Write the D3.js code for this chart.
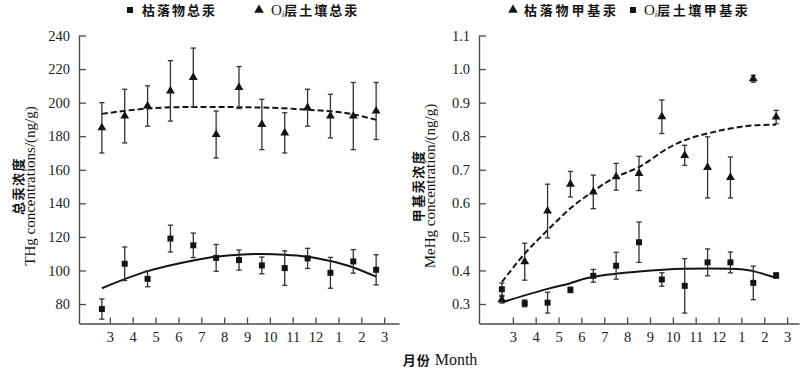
<!DOCTYPE html>
<html>
<head>
<meta charset="utf-8">
<script src="https://cdn.jsdelivr.net/npm/d3@7/dist/d3.min.js"></script>
<style>
  body { margin: 0; background: #fff; }
  svg { display: block; }
  .tick text { font-family: "Liberation Serif", "DejaVu Serif", serif; font-size: 14.5px; fill: #222; }
</style>
</head>
<body>
<svg id="chart" width="800" height="368"></svg>
<script>
// ---------- data ----------
const monthLabels = ["3","4","5","6","7","8","9","10","11","12","1","2","3"];
const sampleIndex = [0,1,2,3,4,5,6,7,8,9,10,11,12];

// Left panel: total mercury (ng/g)
const litterTHg     = [77, 104, 95, 119, 115, 107.5, 106.2, 103, 101.4, 107.2, 98.6, 105.4, 100.4];
const litterTHgSD   = [6, 10, 4.7, 8, 7.3, 8, 6, 5, 10.3, 6, 9.2, 7, 9];
const soilTHg       = [185, 192, 198, 207, 215, 181, 209, 187, 182, 197, 192, 192, 195];
const soilTHgSD     = [15, 16, 12, 18, 17.5, 14, 12.5, 15, 12, 11, 13, 20, 17];
// fitted trend curves
const litterTHgFitX = [0, 2, 4, 5, 6, 7, 8, 9, 10, 11, 12];
const litterTHgFitY = [89.4, 99.6, 106.0, 108.2, 109.4, 109.8, 109.4, 108.2, 105.6, 101.8, 96.3];
const soilTHgFitX   = [0, 2, 4, 6, 8, 10, 11, 12];
const soilTHgFitY   = [193.3, 196.5, 197.4, 197.3, 196.6, 194.8, 193.0, 189.8];

// Right panel: methylmercury (ng/g)
const litterMeHg    = [0.313, 0.426, 0.577, 0.657, 0.634, 0.679, 0.689, 0.858, 0.743, 0.707, 0.677, 0.971, 0.857];
const litterMeHgSD  = [0.01, 0.055, 0.08, 0.038, 0.05, 0.04, 0.051, 0.05, 0.03, 0.091, 0.061, 0.01, 0.02];
const soilMeHg      = [0.344, 0.302, 0.304, 0.342, 0.384, 0.414, 0.484, 0.373, 0.354, 0.424, 0.424, 0.363, 0.385];
const soilMeHgSD    = [0.018, 0.01, 0.031, 0.008, 0.019, 0.04, 0.06, 0.02, 0.081, 0.04, 0.031, 0.05, 0.008];
const litterMeHgFitX = [0, 1, 2, 3, 4, 5, 6, 7, 8, 9, 10, 11, 12];
const litterMeHgFitY = [0.365, 0.45, 0.52, 0.585, 0.636, 0.679, 0.708, 0.753, 0.788, 0.808, 0.823, 0.832, 0.834];
const soilMeHgFitX  = [0, 2, 3, 4, 6, 8, 10, 11, 12];
const soilMeHgFitY  = [0.305, 0.345, 0.362, 0.381, 0.397, 0.405, 0.405, 0.398, 0.378];

const leftTicks  = [80, 100, 120, 140, 160, 180, 200, 220, 240];
const rightTicks = [0.3, 0.4, 0.5, 0.6, 0.7, 0.8, 0.9, 1.0, 1.1];

// ---------- drawing ----------
const svg = d3.select("#chart");
const serif = '"Liberation Serif", "DejaVu Serif", serif';
const cjk = '"Noto Sans CJK SC", sans-serif';
const ink = "#141414";
const axisCol = "#4a4a4a";

function panel(cfg) {
  const g = svg.append("g");
  const x = d3.scaleLinear().domain([-1, 13]).range([cfg.x0, cfg.x0 + 320]);
  const y = d3.scaleLinear().domain(cfg.yDomain).range([323.5, 35.5]);

  const yAxis = d3.axisLeft(y).tickValues(cfg.yTicks).tickFormat(cfg.yFmt)
      .tickSizeInner(-7).tickSizeOuter(0).tickPadding(9);
  const ga = g.append("g").attr("transform", `translate(${cfg.x0},0)`).call(yAxis);
  const xTickPos = monthLabels.map((_, i) => i + cfg.tickOffset);
  const xAxis = d3.axisBottom(x).tickValues(xTickPos).tickFormat((d, i) => monthLabels[i])
      .tickSizeInner(-6).tickSizeOuter(0).tickPadding(8);
  const gx = g.append("g").attr("transform", "translate(0,323.5)").call(xAxis);
  [ga, gx].forEach(a => {
    a.select(".domain").attr("stroke", axisCol).attr("stroke-width", 1.4);
    a.selectAll(".tick line").attr("stroke", axisCol).attr("stroke-width", 1.3);
  });

  // fit curves
  const line = d3.line().x(d => x(d[0])).y(d => y(d[1])).curve(d3.curveNatural);
  cfg.fits.forEach(f => {
    g.append("path").datum(f.xs.map((v, i) => [v, f.ys[i]]))
      .attr("d", line).attr("fill", "none").attr("stroke", ink)
      .attr("stroke-width", 2).attr("stroke-dasharray", f.dashed ? "6,3" : null);
  });

  // error bars + markers
  cfg.series.forEach(s => {
    const data = sampleIndex.map(i => ({ t: i, v: s.vals[i], e: s.sd[i] }));
    const eb = g.append("g").attr("stroke", "#333").attr("stroke-width", 1.3);
    data.forEach(d => {
      const cx = x(d.t), top = y(d.v + d.e), bot = y(d.v - d.e);
      eb.append("line").attr("x1", cx).attr("x2", cx).attr("y1", top).attr("y2", bot);
      eb.append("line").attr("x1", cx - 2.6).attr("x2", cx + 2.6).attr("y1", top).attr("y2", top);
      eb.append("line").attr("x1", cx - 2.6).attr("x2", cx + 2.6).attr("y1", bot).attr("y2", bot);
    });
    g.append("g").selectAll("path").data(data).join("path")
      .attr("transform", d => `translate(${x(d.t)},${y(d.v)})`)
      .attr("d", s.shape === "square" ? d3.symbol(d3.symbolSquare, 36)() : d3.symbol(d3.symbolTriangle, 34)())
      .attr("fill", ink);
  });

  // y title (two rotated lines)
  const cy = 186;
  g.append("text").attr("transform", `translate(${cfg.x0 - 56},${cy}) rotate(-90)`)
    .attr("text-anchor", "middle").attr("letter-spacing", 1.5)
    .attr("font-family", cjk).attr("font-weight", 700).attr("font-size", 13).attr("fill", ink)
    .text(cfg.titleCN);
  g.append("text").attr("transform", `translate(${cfg.x0 - 44},${cy}) rotate(-90)`)
    .attr("text-anchor", "middle")
    .attr("font-family", serif).attr("font-size", 15).attr("fill", ink)
    .text(cfg.titleEN);

  // legend
  cfg.legend.forEach(l => {
    g.append("path").attr("transform", `translate(${l.mx},10)`)
      .attr("d", l.shape === "square" ? d3.symbol(d3.symbolSquare, 36)() : d3.symbol(d3.symbolTriangle, 40)())
      .attr("fill", ink);
    const t = g.append("text").attr("x", l.tx).attr("y", 15)
      .attr("font-size", 13).attr("fill", ink);
    if (l.oi) {
      t.append("tspan").attr("font-family", serif).attr("font-size", 15).text("O");
      t.append("tspan").attr("font-family", serif).attr("font-style", "italic").attr("font-size", 9).attr("dy", 2).text("i");
      t.append("tspan").attr("font-family", cjk).attr("font-weight", 700).attr("letter-spacing", l.ls).attr("dy", -2).text(l.text);
    } else {
      t.append("tspan").attr("font-family", cjk).attr("font-weight", 700).attr("letter-spacing", l.ls).text(l.text);
    }
  });
}

panel({
  x0: 79, yDomain: [68.4, 240], yTicks: leftTicks, yFmt: d3.format("d"), tickOffset: 0.35,
  fits: [
    { xs: litterTHgFitX, ys: litterTHgFitY, dashed: false },
    { xs: soilTHgFitX, ys: soilTHgFitY, dashed: true }
  ],
  series: [
    { vals: soilTHg, sd: soilTHgSD, shape: "triangle" },
    { vals: litterTHg, sd: litterTHgSD, shape: "square" }
  ],
  titleCN: "总汞浓度", titleEN: "THg concentrations/(ng/g)",
  legend: [
    { mx: 130, tx: 142, shape: "square", text: "枯落物总汞", ls: 2 },
    { mx: 259, tx: 271, shape: "triangle", text: "层土壤总汞", ls: 2 }
  ].map((d, i) => i === 1 ? Object.assign(d, { oi: true }) : d)
});

panel({
  x0: 479, yDomain: [0.2419, 1.1], yTicks: rightTicks, yFmt: d3.format(".1f"), tickOffset: 0.48,
  fits: [
    { xs: soilMeHgFitX, ys: soilMeHgFitY, dashed: false },
    { xs: litterMeHgFitX, ys: litterMeHgFitY, dashed: true }
  ],
  series: [
    { vals: soilMeHg, sd: soilMeHgSD, shape: "square" },
    { vals: litterMeHg, sd: litterMeHgSD, shape: "triangle" }
  ],
  titleCN: "甲基汞浓度", titleEN: "MeHg concentration/(ng/g)",
  legend: [
    { mx: 513, tx: 524, shape: "triangle", text: "枯落物甲基汞", ls: 2.8 },
    { mx: 633, tx: 644, shape: "square", text: "层土壤甲基汞", ls: 2.5, oi: true }
  ]
});

// x-axis title
const xt = svg.append("text").attr("x", 440).attr("y", 365).attr("text-anchor", "middle")
  .attr("font-size", 15).attr("fill", ink);
xt.append("tspan").attr("font-family", cjk).attr("font-weight", 700).attr("font-size", 13).attr("letter-spacing", 1).text("月份");
xt.append("tspan").attr("font-family", serif).attr("font-size", 16).text(" Month");
</script>
</body>
</html>
